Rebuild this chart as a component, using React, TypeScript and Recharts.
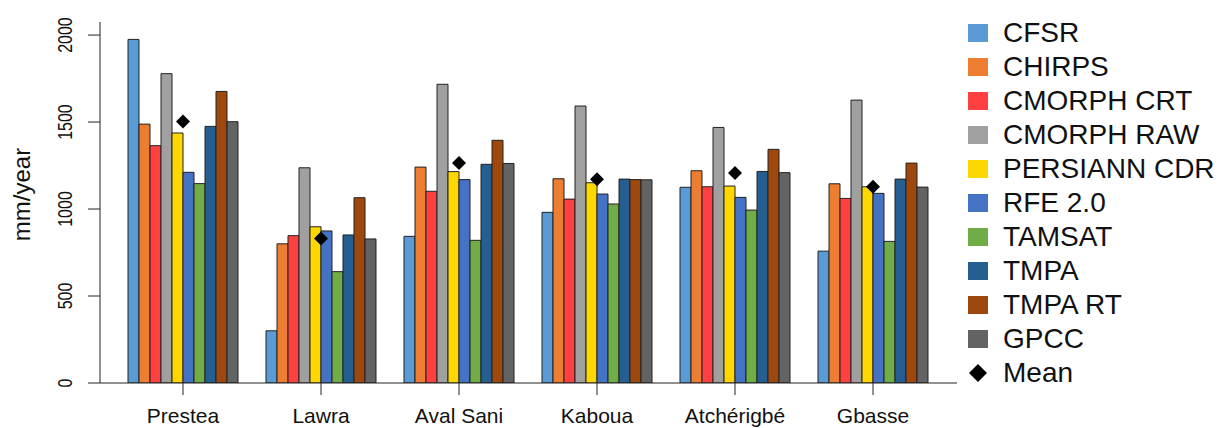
import { ComposedChart, Bar, Scatter, XAxis, YAxis } from "recharts";

const sites = ["Prestea", "Lawra", "Aval Sani", "Kaboua", "Atchérigbé", "Gbasse"];

// annual rainfall (mm/year) per product
const cfsr = [1975, 300, 843, 981, 1125, 758];
const chirps = [1488, 800, 1241, 1174, 1220, 1145];
const cmorphCrt = [1364, 847, 1102, 1057, 1128, 1061];
const cmorphRaw = [1778, 1237, 1717, 1592, 1469, 1626];
const persiannCdr = [1437, 898, 1215, 1151, 1132, 1128];
const rfe = [1211, 874, 1169, 1086, 1067, 1090];
const tamsat = [1146, 640, 820, 1029, 994, 814];
const tmpa = [1475, 851, 1257, 1172, 1216, 1172];
const tmpaRt = [1676, 1065, 1395, 1169, 1343, 1264];
const gpcc = [1502, 828, 1262, 1168, 1209, 1126];
const mean = [1503, 830, 1264, 1171, 1207, 1128];

const yTicks = [0, 500, 1000, 1500, 2000];

const SERIES = [
  { key: "cfsr", name: "CFSR", color: "#5b9bd5", values: cfsr },
  { key: "chirps", name: "CHIRPS", color: "#ed7d31", values: chirps },
  { key: "cmorphCrt", name: "CMORPH CRT", color: "#ff4040", values: cmorphCrt },
  { key: "cmorphRaw", name: "CMORPH RAW", color: "#a0a0a0", values: cmorphRaw },
  { key: "persiann", name: "PERSIANN CDR", color: "#ffd700", values: persiannCdr },
  { key: "rfe", name: "RFE 2.0", color: "#4472c4", values: rfe },
  { key: "tamsat", name: "TAMSAT", color: "#70ad47", values: tamsat },
  { key: "tmpa", name: "TMPA", color: "#255e91", values: tmpa },
  { key: "tmpaRt", name: "TMPA RT", color: "#9e480e", values: tmpaRt },
  { key: "gpcc", name: "GPCC", color: "#636363", values: gpcc },
];

const FONT = '"Liberation Sans", Arial, Helvetica, sans-serif';

const data = sites.map((site, i) => {
  const row: Record<string, string | number> = { site, mean: mean[i] };
  SERIES.forEach((s) => (row[s.key] = s.values[i]));
  return row;
});

const Diamond = (props: any) => {
  const { cx, cy } = props;
  if (cx == null || cy == null) return null;
  const r = 7;
  return (
    <polygon
      points={`${cx},${cy - r} ${cx + r},${cy} ${cx},${cy + r} ${cx - r},${cy}`}
      fill="#000"
    />
  );
};

// R draws the y tick labels parallel to the axis
const YTick = (props: any) => {
  const { x, y, payload } = props;
  return (
    <text
      transform={`translate(${x},${y}) rotate(-90) scale(0.8,1)`}
      textAnchor="middle"
      fontSize={20}
      fontFamily={FONT}
      fill="#111"
    >
      {payload.value}
    </text>
  );
};

const YLabel = (props: any) => {
  const { viewBox } = props;
  const cx = viewBox.x + 30;
  const cy = viewBox.y + viewBox.height / 2 - 8;
  return (
    <text
      transform={`translate(${cx},${cy}) rotate(-90)`}
      textAnchor="middle"
      fontSize={24}
      fontFamily={FONT}
      fill="#111"
    >
      mm/year
    </text>
  );
};

function LegendBox() {
  return (
    <div
      style={{
        position: "absolute",
        left: 968,
        top: 16,
        fontFamily: FONT,
        fontSize: 28,
        color: "#111",
      }}
    >
      {SERIES.map((s) => (
        <div key={s.key} style={{ display: "flex", alignItems: "center", height: 34 }}>
          <div style={{ width: 20, height: 18, background: s.color, marginRight: 15 }} />
          <span style={{ lineHeight: "34px" }}>{s.name}</span>
        </div>
      ))}
      <div style={{ display: "flex", alignItems: "center", height: 34 }}>
        <svg width={20} height={20} style={{ marginRight: 15 }}>
          <polygon points="10,1 19,10 10,19 1,10" fill="#000" />
        </svg>
        <span style={{ lineHeight: "34px" }}>Mean</span>
      </div>
    </div>
  );
}

export default function App() {
  return (
    <div
      style={{
        position: "absolute",
        left: 0,
        top: 0,
        width: 1227,
        height: 428,
        background: "#fff",
      }}
    >
      <ComposedChart
        width={1227}
        height={428}
        data={data}
        margin={{ top: 22, right: 270, bottom: 0, left: 0 }}
        barGap={0}
        barSize={11}
      >
        <XAxis
          dataKey="site"
          height={45}
          interval={0}
          padding={{ left: 14, right: 15 }}
          tickSize={12}
          tickMargin={13}
          tick={{ fontSize: 21, fill: "#111", fontFamily: FONT }}
          axisLine={{ stroke: "#222" }}
          tickLine={{ stroke: "#222" }}
        />
        <XAxis
          xAxisId="top"
          dataKey="site"
          orientation="top"
          height={0}
          padding={{ left: 14, right: 15 }}
          tick={false}
          tickLine={false}
          axisLine={{ stroke: "#222" }}
        />
        <YAxis
          width={100}
          domain={[0, 2075]}
          ticks={yTicks}
          allowDataOverflow
          tickSize={12}
          tickMargin={16}
          tick={<YTick />}
          axisLine={{ stroke: "#222" }}
          tickLine={{ stroke: "#222" }}
          label={<YLabel />}
        />
        <YAxis
          yAxisId="right"
          orientation="right"
          width={0}
          domain={[0, 2075]}
          tick={false}
          tickLine={false}
          axisLine={{ stroke: "#222" }}
        />
        {SERIES.map((s) => (
          <Bar
            key={s.key}
            dataKey={s.key}
            name={s.name}
            fill={s.color}
            stroke="#222"
            strokeWidth={1}
            isAnimationActive={false}
          />
        ))}
        <Scatter dataKey="mean" name="Mean" shape={<Diamond />} isAnimationActive={false} />
      </ComposedChart>
      <LegendBox />
    </div>
  );
}
